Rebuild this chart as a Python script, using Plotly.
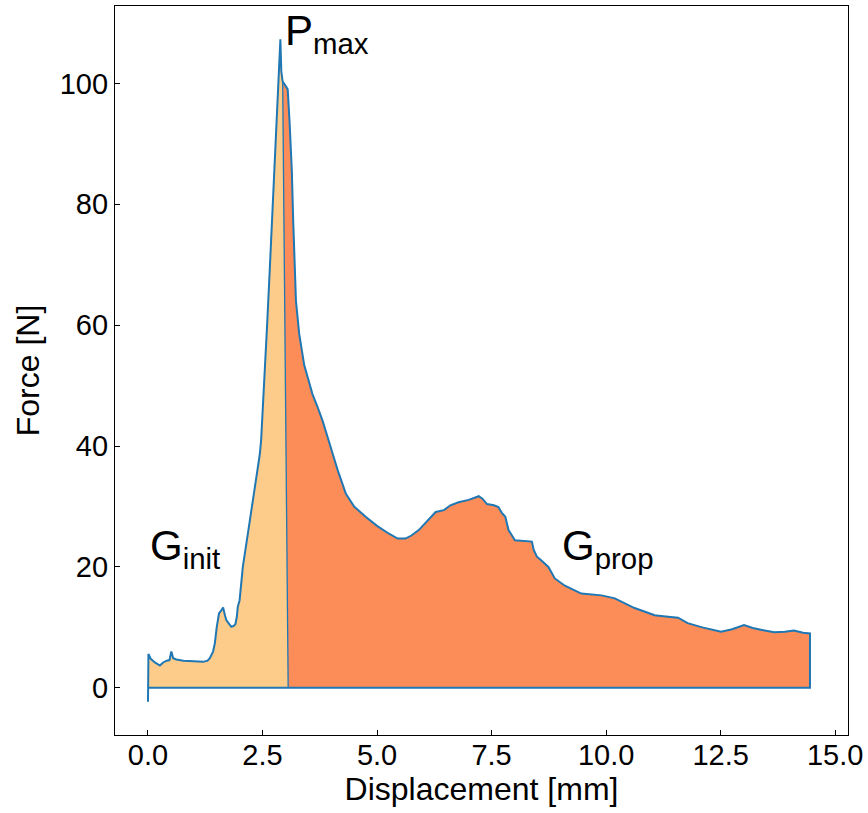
import plotly.graph_objects as go

# ---- data ----
disp = [0.0, 0.01, 0.06, 0.15, 0.26, 0.33, 0.41, 0.47, 0.51, 0.55, 0.62, 0.77, 1.0, 1.2, 1.3,
        1.35, 1.42, 1.46, 1.5, 1.55, 1.60, 1.64, 1.68, 1.71, 1.77, 1.82, 1.88, 1.91, 1.94, 1.96,
        2.0, 2.07, 2.18, 2.29, 2.40, 2.44, 2.47, 2.50, 2.55, 2.60, 2.66, 2.71, 2.80, 2.86, 2.89,
        2.91, 2.94, 3.01, 3.05, 3.09, 3.14, 3.17, 3.23, 3.30, 3.38, 3.41, 3.5, 3.59, 3.7, 3.81,
        3.92, 4.03, 4.15, 4.32, 4.5, 4.75, 5.0, 5.26, 5.45, 5.62, 5.75, 5.91, 6.1, 6.28, 6.46,
        6.6, 6.78, 7.0, 7.22, 7.30, 7.40, 7.55, 7.65, 7.72, 7.80, 7.87, 8.01, 8.2, 8.38, 8.42,
        8.49, 8.6, 8.74, 8.88, 9.1, 9.46, 9.7, 9.90, 10.19, 10.4, 10.62, 10.85, 11.06, 11.3,
        11.57, 11.78, 12.1, 12.51, 12.75, 13.01, 13.2, 13.38, 13.67, 13.9, 14.10, 14.3, 14.45]
force = [-2.3, 5.6, 4.8, 4.2, 3.7, 4.2, 4.5, 4.6, 6.0, 4.9, 4.7, 4.5, 4.4, 4.3, 4.5,
         4.9, 6.0, 7.4, 10.0, 12.3, 12.8, 13.3, 12.0, 11.2, 10.6, 10.1, 10.3, 10.6, 11.8, 13.4,
         14.5, 20.0, 25.5, 31.0, 36.5, 38.6, 41.0, 45.0, 52.5, 60.0, 69.5, 78.0, 93.7, 102.0,
         107.3, 102.0, 100.3, 99.5, 99.0, 93.7, 85.5, 77.2, 64.0, 58.6, 54.7, 53.4, 51.0, 48.6,
         46.5, 44.2, 41.5, 38.7, 35.8, 32.1, 30.0, 28.3, 26.8, 25.5, 24.7, 24.7, 25.2, 26.1, 27.7,
         29.1, 29.4, 30.2, 30.7, 31.1, 31.7, 31.3, 30.4, 30.2, 29.9, 29.0, 28.3, 26.1, 24.4, 24.3,
         24.2, 22.8, 21.7, 21.0, 20.0, 18.1, 16.9, 15.6, 15.4, 15.3, 14.8, 14.0, 13.2, 12.6, 12.0,
         11.8, 11.6, 10.7, 10.0, 9.3, 9.7, 10.4, 9.9, 9.6, 9.2, 9.3, 9.5, 9.1, 9.0]

split_disp_top = 2.94      # curve point where G_init region ends
split_disp_base = 3.06     # base of dividing line
x_ticks = [0.0, 2.5, 5.0, 7.5, 10.0, 12.5, 15.0]
y_ticks = [0, 20, 40, 60, 80, 100]

k = disp.index(split_disp_top)

yellow = "#fdcc8a"
orange = "#fc8d59"
blue = "#1f77b4"

fig = go.Figure()
# G_init region
fig.add_trace(go.Scatter(
    x=disp[:k + 1] + [split_disp_base, disp[0]],
    y=force[:k + 1] + [0, 0],
    fill="toself", fillcolor=yellow, mode="lines", line=dict(width=0),
    hoverinfo="skip", showlegend=False))
# G_prop region
fig.add_trace(go.Scatter(
    x=disp[k:] + [disp[-1], split_disp_base],
    y=force[k:] + [0, 0],
    fill="toself", fillcolor=orange, mode="lines", line=dict(width=0),
    hoverinfo="skip", showlegend=False))
# dividing line
fig.add_trace(go.Scatter(
    x=[split_disp_top, split_disp_base], y=[force[k], 0],
    mode="lines", line=dict(color=blue, width=1.3), showlegend=False))
# force-displacement curve (closed back along zero)
fig.add_trace(go.Scatter(
    x=disp + [disp[-1], disp[0]], y=force + [0, 0],
    mode="lines", line=dict(color=blue, width=2), showlegend=False))

font_family = "Liberation Sans, Arial, Helvetica, sans-serif"
fig.add_annotation(x=2.94, y=108.2, text="P<sub>max</sub>", showarrow=False,
                   xanchor="left", yanchor="middle", font=dict(size=42, color="black", family=font_family))
fig.add_annotation(x=0.0, y=23.1, text="G<sub>init</sub>", showarrow=False,
                   xanchor="left", yanchor="middle", font=dict(size=42, color="black", family=font_family))
fig.add_annotation(x=9.0, y=23.1, text="G<sub>prop</sub>", showarrow=False,
                   xanchor="left", yanchor="middle", font=dict(size=42, color="black", family=font_family))

axis_common = dict(showline=True, mirror=True, linecolor="black", linewidth=1.3,
                   ticks="inside", ticklen=5, tickwidth=1, tickcolor="black",
                   showgrid=False, zeroline=False,
                   tickfont=dict(size=29, color="black", family=font_family))

fig.update_xaxes(range=[-0.72, 15.28], tickvals=x_ticks, tickformat=".1f",
                 title=dict(text="Displacement [mm]", font=dict(size=32, color="black", family=font_family),
                            standoff=4),
                 ticklabelstandoff=-6, **axis_common)
fig.update_yaxes(range=[-7.8, 112.8], tickvals=y_ticks,
                 title=dict(text="Force [N]", font=dict(size=32, color="black", family=font_family),
                            standoff=10),
                 ticklabelstandoff=0, **axis_common)

fig.update_layout(width=868, height=813, margin=dict(l=115, r=17, t=5, b=78),
                  plot_bgcolor="white", paper_bgcolor="white", showlegend=False)

fig.write_html("out.html")
